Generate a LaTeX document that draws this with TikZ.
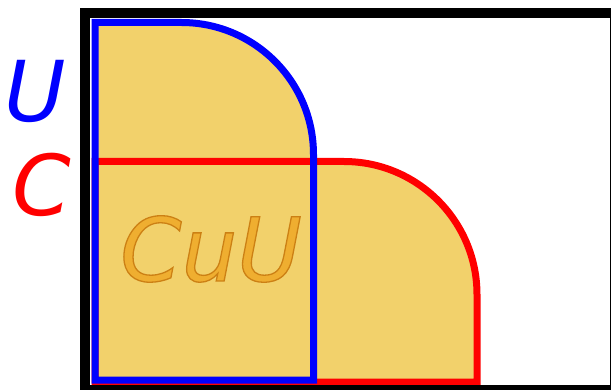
\documentclass[tikz,border=0pt]{standalone}
\usepackage{fontspec}
\setmainfont{DejaVu Sans}
\usepackage{xcolor}
\definecolor{setfill}{RGB}{242,209,107}
\definecolor{textfill}{RGB}{239,174,48}
\newcommand{\outlinetext}[1]{%
  \special{pdf:literal direct 2 Tr 1.3 w 0.80 0.50 0.08 RG}#1%
  \special{pdf:literal direct 0 Tr}}

\begin{document}
\begin{tikzpicture}[
  x=1pt, y=-1pt,
  frame/.style={draw=black, line width=10pt},
  setU/.style={draw=blue, line width=7pt},
  setC/.style={draw=red, line width=7pt},
  lbl/.style={inner sep=0pt, anchor=base, font=\fontsize{84}{84}\selectfont\itshape},
  union/.style={inner sep=0pt, anchor=base, text=textfill,
    font=\fontsize{88}{88}\selectfont\itshape}
]
\useasboundingbox (0,0) rectangle (611,390);
\clip (0,0) rectangle (611,390);

%% Filled union of both sets
\fill[setfill] (95,380) -- (95,22.5) -- (181.5,22.5)
  arc[start angle=-90, end angle=0, radius=132] -- (313.5,161.5)
  -- (344,161.5) arc[start angle=-90, end angle=0, radius=133]
  -- (477,382) -- cycle;

%% Set outlines
\draw[setC] (95,382) -- (95,161.5) -- (344,161.5)
  arc[start angle=-90, end angle=0, radius=133] -- (477,382) -- cycle;
\draw[setU] (95,380) -- (95,22.5) -- (181.5,22.5)
  arc[start angle=-90, end angle=0, radius=132] -- (313.5,380) -- cycle;

%% Frame
\draw[frame] (85,13) rectangle (615,390);

%% Labels
\node[lbl, text=blue] (labU) at (35,122) {U};
\node[lbl, text=red]  (labC) at (42,216) {C};
\node[union]          (labCuU) at (211,281) {\outlinetext{CuU}};

\end{tikzpicture}
\end{document}
